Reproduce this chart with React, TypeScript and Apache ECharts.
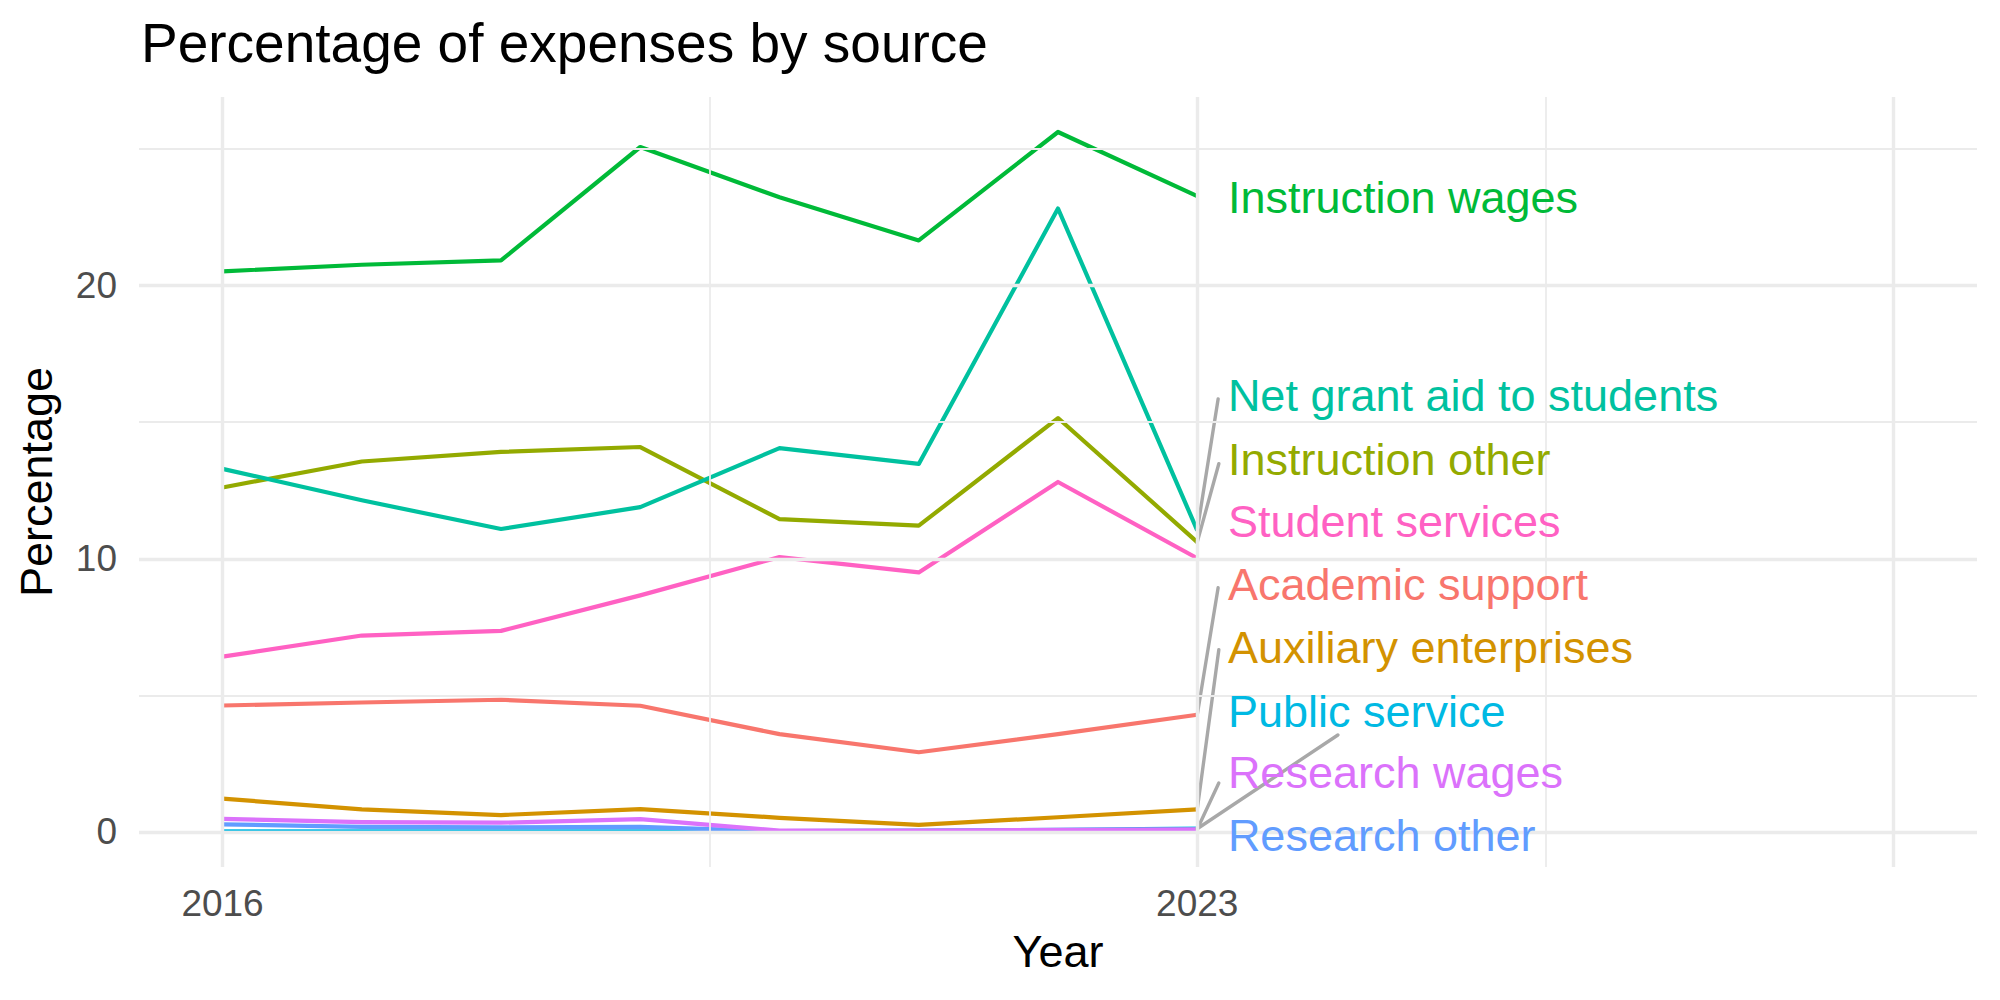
import React, { useEffect, useRef } from "react";
import * as echarts from "echarts";

// Share of total expenses (%) by source, fiscal years 2016–2023
const years = [2016, 2017, 2018, 2019, 2020, 2021, 2022, 2023];
const academicSupport = [4.63, 4.74, 4.84, 4.62, 3.58, 2.92, 3.58, 4.29];
const auxiliaryEnterprises = [1.22, 0.83, 0.62, 0.84, 0.52, 0.26, 0.54, 0.83];
const instructionOther = [12.61, 13.56, 13.91, 14.09, 11.45, 11.21, 15.15, 10.61];
const instructionWages = [20.52, 20.76, 20.92, 25.07, 23.23, 21.65, 25.62, 23.27];
const netGrantAid = [13.29, 12.14, 11.09, 11.89, 14.05, 13.47, 22.82, 11.04];
const publicService = [0.02, 0.02, 0.02, 0.02, 0.03, 0.05, 0.08, 0.12];
const researchOther = [0.28, 0.19, 0.17, 0.19, 0.02, 0.03, 0.05, 0.06];
const researchWages = [0.48, 0.36, 0.34, 0.47, 0.05, 0.05, 0.08, 0.1];
const studentServices = [6.42, 7.19, 7.36, 8.66, 10.06, 9.5, 12.81, 10.02];

const seriesNames = [
  "Academic support",
  "Auxiliary enterprises",
  "Instruction other",
  "Instruction wages",
  "Net grant aid to students",
  "Public service",
  "Research other",
  "Research wages",
  "Student services",
];
const seriesValues = [
  academicSupport,
  auxiliaryEnterprises,
  instructionOther,
  instructionWages,
  netGrantAid,
  publicService,
  researchOther,
  researchWages,
  studentServices,
];
const palette = [
  "#F8766D",
  "#D39200",
  "#93AA00",
  "#00BA38",
  "#00C19F",
  "#00B9E3",
  "#619CFF",
  "#DB72FB",
  "#FF61C3",
];

// Repelled end-label anchors (percentage units), in series order
const labelAnchorY = [9.05, 6.75, 13.63, 23.22, 15.98, 4.41, -0.11, 2.16, 11.37];
const labelAnchorX = 2023.22;
// Leader-segment ends for labels pushed away from their line (null = no segment)
const segmentEnds: ([number, number] | null)[] = [
  [2023.15, 8.94],
  [2023.155, 6.67],
  [2023.155, 13.48],
  null,
  [2023.15, 15.85],
  [2024.01, 3.55],
  null,
  [2023.155, 1.79],
  null,
];

const xTickLabels = [2016, 2023];
const yTickLabels = [0, 10, 20];
const xMajorGrid = [2016, 2023, 2028];
const xMinorGrid = [2019.5, 2025.5];
const yMajorGrid = [0, 10, 20];
const yMinorGrid = [5, 15, 25];

const FONT = "'Liberation Sans', Arial, Helvetica, sans-serif";

export default function App() {
  const ref = useRef<HTMLDivElement>(null);

  useEffect(() => {
    if (!ref.current) return;
    const chart = echarts.init(ref.current, undefined, { renderer: "svg" });

    const gridColor = "#EBEBEB";
    const major = { width: 3.4, color: gridColor, type: "solid" };
    const minor = { width: 1.8, color: gridColor, type: "solid" };
    const gridLines = [
      ...xMajorGrid.map((v) => ({ xAxis: v, lineStyle: major })),
      ...xMinorGrid.map((v) => ({ xAxis: v, lineStyle: minor })),
      ...yMajorGrid.map((v) => ({ yAxis: v, lineStyle: major })),
      ...yMinorGrid.map((v) => ({ yAxis: v, lineStyle: minor })),
    ];

    const lineSeries = seriesNames.map((name, i) => ({
      type: "line",
      name,
      data: years.map((y, j) => [y, seriesValues[i][j]]),
      showSymbol: false,
      symbol: "none",
      lineStyle: { color: palette[i], width: 4.2, cap: "butt", join: "round" },
      itemStyle: { color: palette[i] },
      emphasis: { disabled: true },
      z: 3,
      silent: true,
    }));

    const segmentData = segmentEnds
      .map((end, i) =>
        end
          ? { coords: [[years[years.length - 1], seriesValues[i][seriesValues[i].length - 1]], end] }
          : null
      )
      .filter(Boolean);

    const option: any = {
      animation: false,
      backgroundColor: "#FFFFFF",
      title: {
        text: "Percentage of expenses by source",
        left: 136,
        top: 10,
        textStyle: { fontFamily: FONT, fontSize: 55, fontWeight: "normal", color: "#000000" },
      },
      grid: { left: 139, right: 23, top: 97, bottom: 133, containLabel: false },
      xAxis: {
        type: "value",
        min: 2015.4,
        max: 2028.6,
        name: "Year",
        nameLocation: "middle",
        nameGap: 62,
        nameTextStyle: { fontFamily: FONT, fontSize: 45, color: "#000000" },
        axisLine: { show: false },
        axisTick: { show: false },
        splitLine: { show: false },
        axisLabel: {
          customValues: xTickLabels,
          fontFamily: FONT,
          fontSize: 37,
          color: "#4D4D4D",
          margin: 18,
          formatter: (v: number) => String(v),
        },
      },
      yAxis: {
        type: "value",
        min: -1.281,
        max: 26.9,
        name: "Percentage",
        nameLocation: "middle",
        nameRotate: 90,
        nameGap: 80,
        nameTextStyle: { fontFamily: FONT, fontSize: 45, color: "#000000" },
        axisLine: { show: false },
        axisTick: { show: false },
        splitLine: { show: false },
        axisLabel: {
          customValues: yTickLabels,
          fontFamily: FONT,
          fontSize: 37,
          color: "#4D4D4D",
          margin: 22,
          formatter: (v: number) => String(v),
        },
      },
      series: [
        {
          type: "line",
          name: "grid",
          data: [],
          silent: true,
          z: 1,
          markLine: {
            silent: true,
            symbol: ["none", "none"],
            label: { show: false },
            animation: false,
            data: gridLines,
          },
        },
        ...lineSeries,
        {
          type: "lines",
          coordinateSystem: "cartesian2d",
          polyline: false,
          silent: true,
          z: 4,
          lineStyle: { color: "#A8A8A8", width: 3.4, opacity: 1, cap: "round" },
          data: segmentData,
        },
        {
          type: "scatter",
          name: "labels",
          silent: true,
          z: 5,
          symbolSize: 0,
          itemStyle: { opacity: 1 },
          data: seriesNames.map((name, i) => ({
            value: [labelAnchorX, labelAnchorY[i]],
            name,
            itemStyle: { opacity: 1 },
            label: {
              show: true,
              position: "right",
              distance: 0,
              formatter: name,
              color: palette[i],
              opacity: 1,
              fontFamily: FONT,
              fontSize: 45,
            },
          })),
        },
      ],
    };

    chart.setOption(option);
    return () => chart.dispose();
  }, []);

  return (
    <div
      ref={ref}
      style={{ position: "fixed", left: 0, top: 0, width: 2000, height: 1000, background: "#FFFFFF" }}
    />
  );
}
